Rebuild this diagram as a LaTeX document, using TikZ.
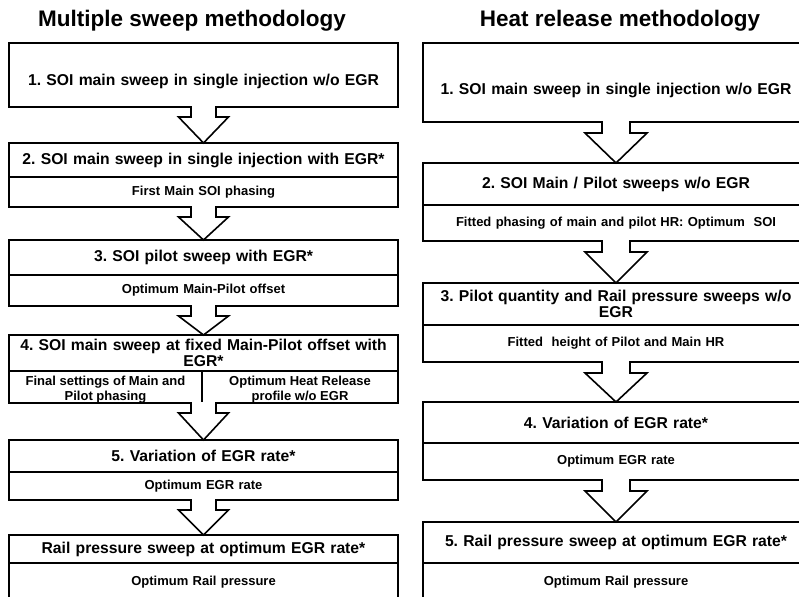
\documentclass[tikz,border=0pt]{standalone}
\usepackage{fontspec}
\setmainfont{Liberation Sans}
\usetikzlibrary{calc}
\frenchspacing
\newcommand{\lw}{389pt}
\newcommand{\rw}{386pt}
% two lines set a little low in a cell, overflowing it as in the picture
\newcommand{\lowpair}[2]{\raisebox{-6pt}[9pt][9pt]{\begin{tabular}{@{}c@{}}#1\\#2\end{tabular}}}
% block arrow between two boxes: from, to, shaft half width, head half width, shaft length
\newcommand{\flowarrow}[5]{%
  \fill[white] let \p1=(#1.south), \p2=(#2.north) in
    (\x2-#3,\y1+1pt) -- (\x2-#3,\y1-#5) -- (\x2-#4,\y1-#5) -- (\x2,\y2)
    -- (\x2+#4,\y1-#5) -- (\x2+#3,\y1-#5) -- (\x2+#3,\y1+1pt) -- cycle;
  \draw[flow] let \p1=(#1.south), \p2=(#2.north) in
    (\x2-#3,\y1+0.8pt) -- (\x2-#3,\y1-#5) -- (\x2-#4,\y1-#5) -- (\x2,\y2)
    -- (\x2+#4,\y1-#5) -- (\x2+#3,\y1-#5) -- (\x2+#3,\y1+0.8pt);
}

\begin{document}
\begin{tikzpicture}[x=1pt, y=-1pt,
  cell/.style={draw, line width=1.6pt, outer sep=0pt, inner xsep=0pt, inner ysep=1pt, anchor=north west, align=center, font=\bfseries\fontsize{15.7}{16}\selectfont},
  subcell/.style={cell, font=\bfseries\fontsize{13}{15}\selectfont},
  title/.style={font=\bfseries\fontsize{22.5}{24}\selectfont},
  flow/.style={line width=1.6pt, line join=miter}]
    \useasboundingbox (0,0) rectangle (799,596);
    \clip (0,0) rectangle (799,596);

    % Titles
    \node[title] (title-l) at (192,21) {Multiple sweep methodology};
    \node[title] (title-r) at (620,21) {Heat release methodology};

    % Left column
    \node[cell, text width=\lw, minimum height=64pt] (l-1) at (9,43) {\rule{0pt}{25pt}1. SOI main sweep in single injection w/o EGR};

    \node[cell, text width=\lw, minimum height=34pt] (l-2-a) at (9,143) {2. SOI main sweep in single injection with EGR*};
    \node[subcell, text width=\lw, minimum height=30pt] (l-2-b) at (9,177) {First Main SOI phasing};

    \node[cell, text width=\lw, minimum height=35pt] (l-3-a) at (9,240) {3. SOI pilot sweep with EGR*};
    \node[subcell, text width=\lw, minimum height=31pt] (l-3-b) at (9,275) {Optimum Main-Pilot offset};

    \node[cell, text width=\lw, minimum height=36pt] (l-4-a) at (9,335) {4. SOI main sweep at fixed Main-Pilot offset with\\EGR*};
    \node[subcell, minimum width=193pt, minimum height=32pt] (l-4-b) at (9,371) {\lowpair{Final settings of Main and}{Pilot phasing}};
    \node[subcell, minimum width=196pt, minimum height=32pt] (l-4-c) at (202,371) {\lowpair{Optimum Heat Release}{profile w/o EGR}};

    \node[cell, text width=\lw, minimum height=32pt] (l-5-a) at (9,440) {5. Variation of EGR rate*};
    \node[subcell, text width=\lw, minimum height=28pt] (l-5-b) at (9,472) {Optimum EGR rate};

    \node[cell, text width=\lw, minimum height=28pt] (l-6-a) at (9,535) {Rail pressure sweep at optimum EGR rate*};
    \node[subcell, text width=\lw, minimum height=38pt] (l-6-b) at (9,563) {Optimum Rail pressure};

    % Right column
    \node[cell, text width=\rw, minimum height=79pt] (r-1) at (423,43) {\rule{0pt}{28pt}1. SOI main sweep in single injection w/o EGR};

    \node[cell, text width=\rw, minimum height=42pt] (r-2-a) at (423,163) {2. SOI Main / Pilot sweeps w/o EGR};
    \node[subcell, text width=\rw, minimum height=36pt] (r-2-b) at (423,205) {Fitted phasing of main and pilot HR: Optimum\space\space SOI};

    \node[cell, text width=\rw, minimum height=42pt] (r-3-a) at (423,283) {3. Pilot quantity and Rail pressure sweeps w/o\\EGR};
    \node[subcell, text width=\rw, minimum height=37pt] (r-3-b) at (423,325) {Fitted\space\space height of Pilot and Main HR};

    \node[cell, text width=\rw, minimum height=41pt] (r-4-a) at (423,402) {4. Variation of EGR rate*};
    \node[subcell, text width=\rw, minimum height=37pt] (r-4-b) at (423,443) {Optimum EGR rate};

    \node[cell, text width=\rw, minimum height=41pt] (r-5-a) at (423,522) {5. Rail pressure sweep at optimum EGR rate*};
    \node[subcell, text width=\rw, minimum height=38pt] (r-5-b) at (423,563) {Optimum Rail pressure};

    % Arrows
    \flowarrow{l-1}{l-2-a}{12.5pt}{25pt}{10pt}
    \flowarrow{l-2-b}{l-3-a}{12.5pt}{25pt}{10pt}
    \flowarrow{l-3-b}{l-4-a}{12.5pt}{25pt}{10pt}
    \flowarrow{l-4-b}{l-5-a}{12.5pt}{25pt}{10pt}
    \flowarrow{l-5-b}{l-6-a}{12.5pt}{25pt}{10pt}

    \flowarrow{r-1}{r-2-a}{14pt}{31pt}{11pt}
    \flowarrow{r-2-b}{r-3-a}{14pt}{31pt}{11pt}
    \flowarrow{r-3-b}{r-4-a}{14pt}{31pt}{11pt}
    \flowarrow{r-4-b}{r-5-a}{14pt}{31pt}{11pt}

\end{tikzpicture}
\end{document}
